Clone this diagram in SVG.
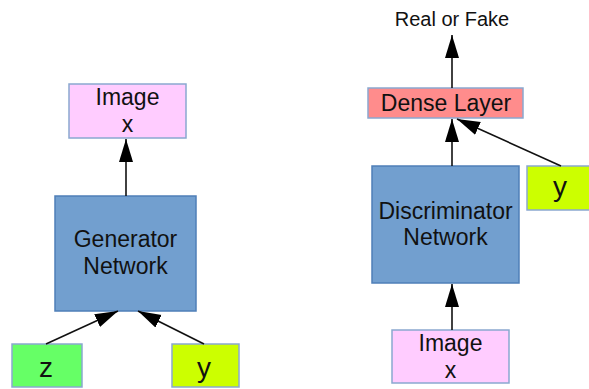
<svg xmlns="http://www.w3.org/2000/svg" width="589" height="389" viewBox="0 0 589 389">
  <style>
    .box { stroke-width: 1.5; }
    .img { fill: #ffccff; stroke: #8aa8d0; }
    .net { fill: #729fcf; stroke: #4f7fb8; }
    .dense { fill: #ff8c8c; stroke: #8aa8d0; }
    .z { fill: #66ff66; stroke: #8aa8d0; }
    .y { fill: #ccff00; stroke: #8aa8d0; }
    text { font-family: "Liberation Sans", Arial, sans-serif; fill: #111; text-anchor: middle; }
    .lbl { font-size: 23px; }
    .big { font-size: 28px; }
    .out { font-size: 20px; }
    .edge { stroke: #111; stroke-width: 1.6; fill: none; marker-end: url(#head); }
  </style>
  <defs>
    <marker id="head" markerUnits="userSpaceOnUse" markerWidth="24" markerHeight="15" refX="23" refY="7" orient="auto">
      <path d="M0,0 L23,7 L0,14 Z" fill="#000"/>
    </marker>
  </defs>

  <!-- generator side -->
  <g id="gen-image">
    <rect class="box img" x="69" y="84" width="117" height="54"/>
    <text class="lbl" x="127.5" y="105">Image</text>
    <text class="lbl" x="127.5" y="132">x</text>
  </g>
  <g id="generator">
    <rect class="box net" x="55" y="196" width="141" height="115"/>
    <text class="lbl" x="125.5" y="247">Generator</text>
    <text class="lbl" x="125.5" y="274">Network</text>
  </g>
  <g id="gen-z">
    <rect class="box z" x="12" y="344" width="70" height="43"/>
    <text class="big" x="46" y="377">z</text>
  </g>
  <g id="gen-y">
    <rect class="box y" x="172" y="344" width="67" height="43"/>
    <text class="big" x="204" y="377">y</text>
  </g>

  <!-- discriminator side -->
  <g id="real-or-fake">
    <text class="out" x="452" y="26">Real or Fake</text>
  </g>
  <g id="dense">
    <rect class="box dense" x="368" y="88" width="155" height="30"/>
    <text class="lbl" x="446" y="111">Dense Layer</text>
  </g>
  <g id="discriminator">
    <rect class="box net" x="372" y="166" width="147" height="117"/>
    <text class="lbl" x="445.5" y="219">Discriminator</text>
    <text class="lbl" x="445.5" y="245">Network</text>
  </g>
  <g id="disc-y">
    <rect class="box y" x="527" y="166" width="70" height="44"/>
    <text class="big" x="560" y="196">y</text>
  </g>
  <g id="disc-image">
    <rect class="box img" x="392" y="330" width="117" height="53"/>
    <text class="lbl" x="450.5" y="351">Image</text>
    <text class="lbl" x="450.5" y="378">x</text>
  </g>

  <g id="connectors">
    <line class="edge" x1="126" y1="196" x2="126" y2="139"/>
    <line class="edge" x1="46" y1="344" x2="118" y2="311"/>
    <line class="edge" x1="204" y1="344" x2="138" y2="311"/>
    <line class="edge" x1="452" y1="88" x2="452" y2="35"/>
    <line class="edge" x1="452" y1="166" x2="452" y2="119"/>
    <line class="edge" x1="561" y1="166" x2="457" y2="119"/>
    <line class="edge" x1="452" y1="330" x2="452" y2="284"/>
  </g>
</svg>
